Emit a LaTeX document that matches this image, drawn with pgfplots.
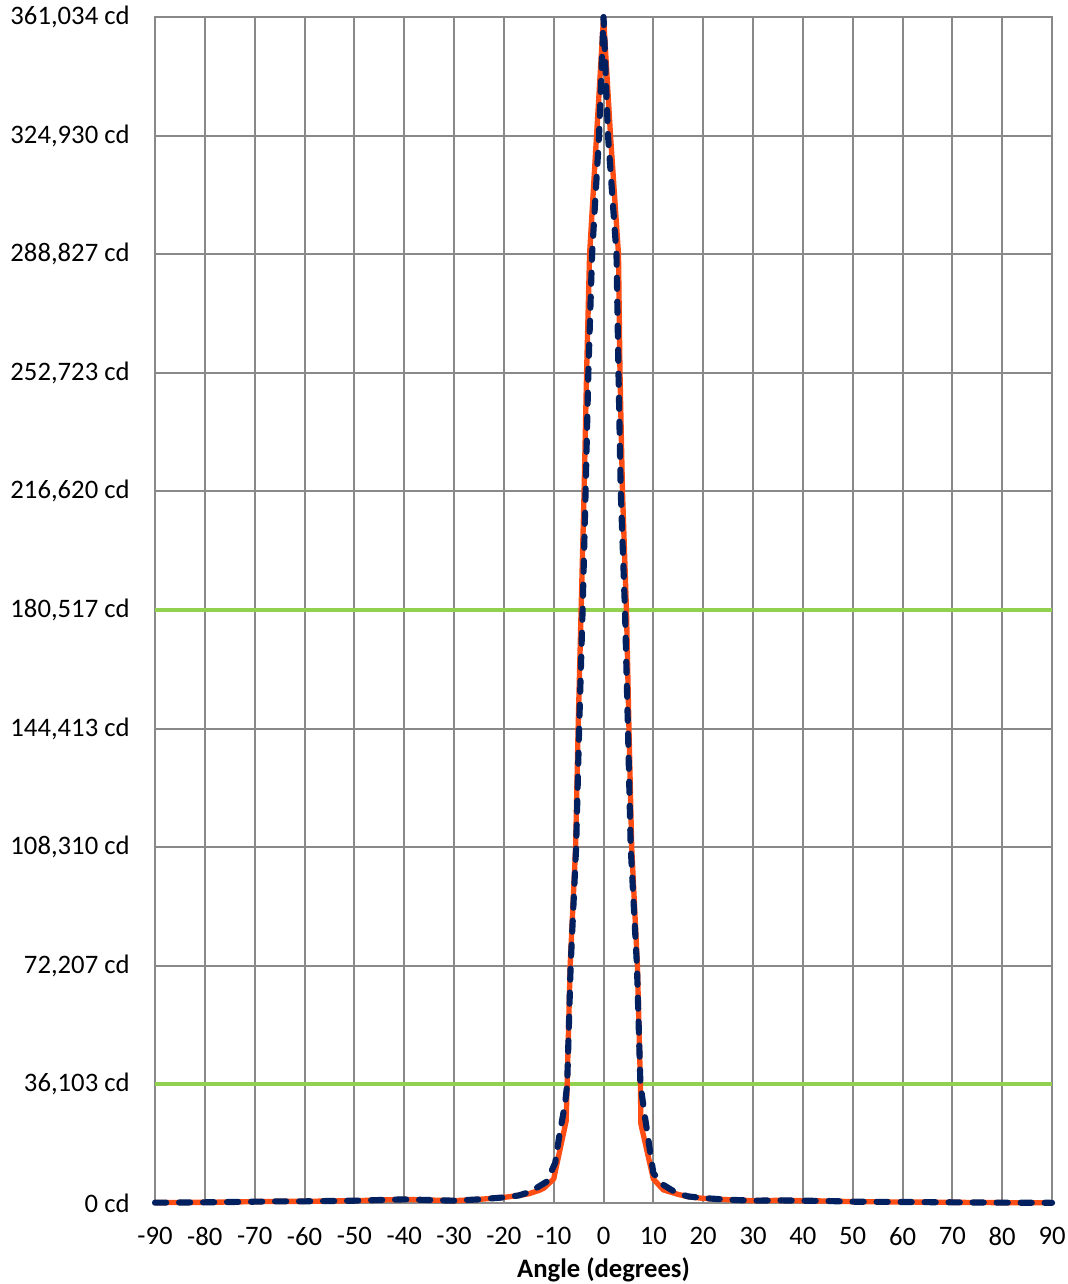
\documentclass[border=0pt]{standalone}
\usepackage{fontspec}
\setmainfont{Carlito}
\usepackage{pgfplots}
\pgfplotsset{compat=1.18}
\definecolor{gridgray}{RGB}{137,137,137}
\definecolor{lgreen}{RGB}{146,208,80}
\definecolor{orng}{RGB}{255,77,20}
\definecolor{navy}{RGB}{0,32,96}
\begin{document}
\begin{tikzpicture}
\begin{axis}[
  scale only axis,
  width=336.3pt, height=444.6pt,
  xmin=-90, xmax=90, ymin=0, ymax=361034,
  xtick={-90,-80,...,90},
  xticklabels={-90,-80,-70,-60,-50,-40,-30,-20,-10,0,10,20,30,40,50,60,70,80,90},
  ytick={0,36103.4,72206.8,108310.2,144413.6,180517,216620.4,252723.8,288827.2,324930.6,361034},
  yticklabels={0 cd,{36,103 cd},{72,207 cd},{108,310 cd},{144,413 cd},{180,517 cd},{216,620 cd},{252,723 cd},{288,827 cd},{324,930 cd},{361,034 cd}},
  major tick length=0pt,
  grid=major,
  major grid style={gridgray, line width=0.75pt},
  axis line style={gridgray, line width=0.75pt},
  tick label style={font=\fontsize{10}{12}\selectfont, text=black, inner ysep=1pt},
  yticklabel style={xshift=-6pt},
  xticklabel style={yshift=-8pt},
  xlabel={\textbf{Angle (degrees)}},
  xlabel style={font=\fontsize{10}{12}\selectfont, yshift=0pt},
  clip=false,
]
\addplot[lgreen, line width=1.5pt] coordinates {(-90,36103) (90,36103)};
\addplot[lgreen, line width=1.5pt] coordinates {(-90,180517) (90,180517)};
\addplot[orng, line width=2pt, line join=round] coordinates {
(-90,100) (-85,150) (-80,200) (-75,300) (-70,400) (-65,500) (-60,500) (-55,600) (-50,700) (-45,900) (-40,1100) (-35,900) (-30,700) (-25,1100) (-20,1700) (-17,2300) (-15,2800) (-13,3800) (-12,4500) (-10,7300) (-7.5,25000) (-7.3,36103) (-6.7,72207) (-5.6,108310) (-5.1,144413) (-4.5,180517) (-3.9,216620) (-3.4,252723) (-2.8,288827) (-1.4,324930) (0,361034) (1.4,324930) (3.0,288827) (3.3,252723) (3.8,216620) (4.6,180517) (5.1,144413) (5.65,108310) (6.8,72207) (7.4,36103) (7.5,24000) (10,7300) (12,4000) (15,2600) (17,1900) (20,1400) (25,1000) (30,700) (35,800) (40,700) (45,600) (50,400) (60,300) (70,200) (80,100) (90,50)
};
\addplot[navy, line width=2.3pt, line cap=round, line join=round, dash pattern=on 4.2pt off 4.8pt] coordinates {
(-90,100) (-85,150) (-80,200) (-75,300) (-70,400) (-65,500) (-60,500) (-55,600) (-50,700) (-45,900) (-40,1100) (-35,900) (-30,700) (-25,1100) (-20,1700) (-17,2300) (-14.7,3400) (-11.4,6500) (-9.7,12200) (-8.9,20200) (-7.7,30400) (-7.3,36103) (-6.6,72207) (-5.5,108310) (-4.9,144413) (-4.2,180517) (-3.6,216620) (-3.05,252723) (-2.3,288827) (-0.9,324930) (0,361034) (0.9,324930) (2.6,288827) (3.0,252723) (3.45,216620) (4.3,180517) (4.9,144413) (5.45,108310) (6.7,72207) (7.4,36103) (7.6,34000) (8.3,26300) (9.3,16100) (10,9100) (12,5500) (14.7,3000) (17,2000) (20,1500) (25,1000) (30,700) (35,800) (40,700) (45,600) (50,400) (60,300) (70,200) (80,100) (90,50)
};
\coordinate (SW) at (rel axis cs:0,0);
\end{axis}
\pgfresetboundingbox
\path (SW) ++(-58.11pt,-30.37pt) rectangle ++(400pt,481.35pt);
\end{tikzpicture}
\end{document}
